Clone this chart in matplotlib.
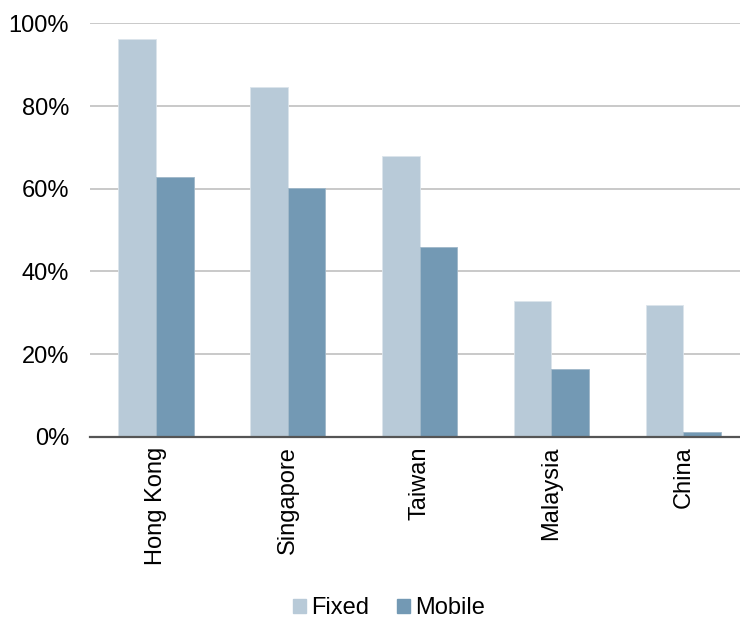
import numpy as np
import matplotlib.pyplot as plt
from matplotlib.ticker import PercentFormatter
from matplotlib.patches import Patch

plt.rcParams['font.family'] = ['Liberation Sans', 'DejaVu Sans']

# broadband penetration by market
countries = ["Hong Kong", "Singapore", "Taiwan", "Malaysia", "China"]
fixed = [96.3, 84.5, 68.0, 32.8, 31.9]
mobile = [62.9, 60.1, 45.8, 16.3, 1.1]

c_fixed = "#b8cad8"
c_mobile = "#7399b4"
fs = 17

fig = plt.figure(figsize=(7.4, 6.22), dpi=100)
ax = fig.add_axes([0.1216, 0.2979, 0.8784, 0.6646])

x = np.arange(len(countries))
w = 0.286
ax.bar(x - w / 2, fixed, w, color=c_fixed, edgecolor="#dbe4eb", linewidth=0.6, zorder=3)
ax.bar(x + w / 2, mobile, w, color=c_mobile, edgecolor="#9fb7c9", linewidth=0.6, zorder=3)

ax.set_xlim(-0.5, 4.43)
ax.set_ylim(0, 100)
ax.set_yticks(range(0, 101, 20))
ax.yaxis.set_major_formatter(PercentFormatter(decimals=0))
ax.grid(axis="y", color="#c0c0c0", linewidth=1.2, zorder=0)
ax.set_axisbelow(True)

ax.set_xticks(x)
ax.set_xticklabels(countries, rotation=90, fontsize=fs)
ax.tick_params(axis="y", labelsize=fs, length=0, pad=15)
ax.tick_params(axis="x", length=0, pad=7)

for s in ["top", "right", "left"]:
    ax.spines[s].set_visible(False)
ax.spines["bottom"].set_color("#555555")
ax.spines["bottom"].set_linewidth(1.6)
ax.spines["bottom"].set_zorder(4)

handles = [Patch(color=c_fixed, label="Fixed"), Patch(color=c_mobile, label="Mobile")]
fig.legend(handles=handles, loc="center", bbox_to_anchor=(0.526, 0.022), ncol=2,
           frameon=False, fontsize=fs, handlelength=0.55, handleheight=0.55,
           handletextpad=0.2, columnspacing=1.2)

fig.savefig("out.png", dpi=100)
